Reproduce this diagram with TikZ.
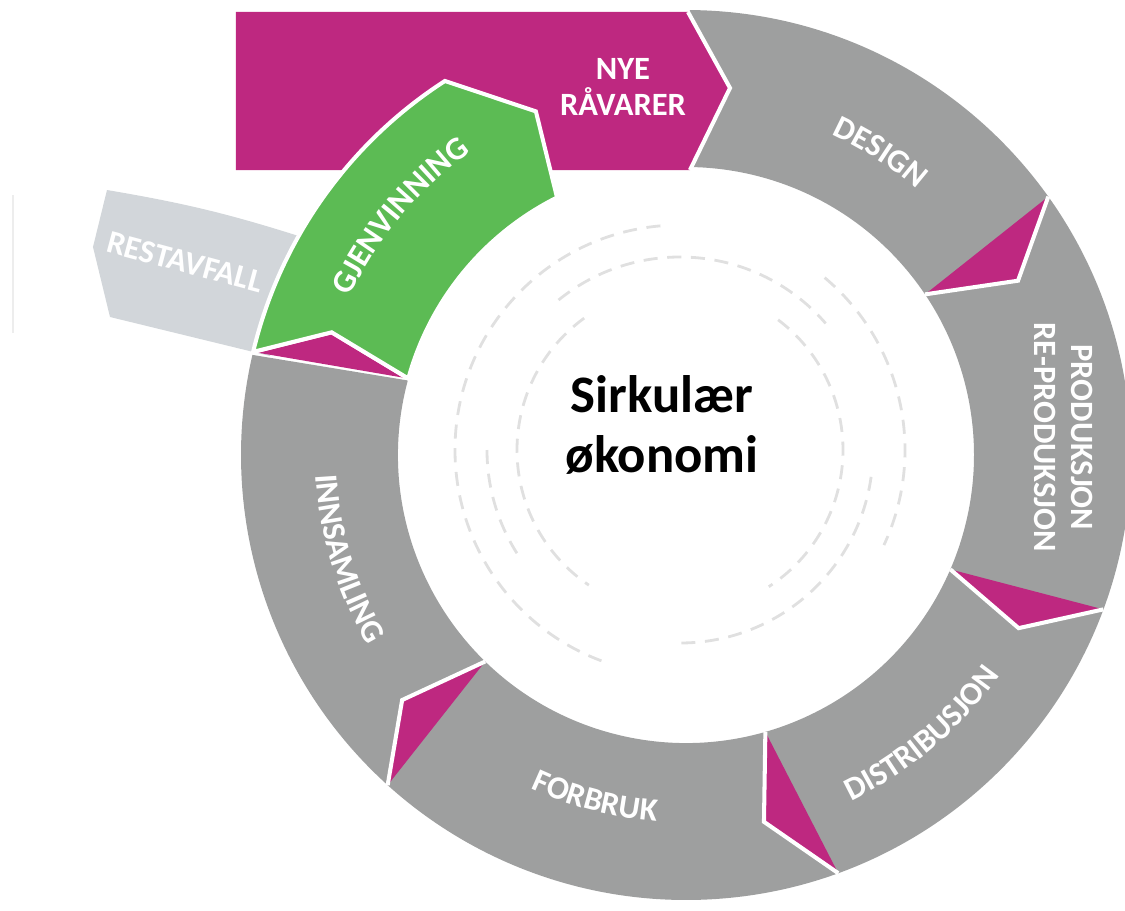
\documentclass[tikz,border=0pt]{standalone}
\usepackage{fontspec}
\setmainfont{Carlito}
\usetikzlibrary{decorations.text}

\definecolor{ringgray}{RGB}{158,159,159}
\definecolor{ravmag}{RGB}{190,40,128}
\definecolor{gjengreen}{RGB}{92,187,84}
\definecolor{restgray}{RGB}{210,214,218}
\definecolor{dashgray}{RGB}{224,224,224}

\newcommand{\lblfont}{\bfseries\fontsize{18.5}{21}\selectfont}
\def\ringin{288}
\def\ringout{445}
\def\ringtip{375}

\tikzset{
  sepline/.style={draw=white, line width=2.3pt, line join=miter},
  lbl/.style={text=white, font=\lblfont, inner sep=0pt},
  ringtext/.style={decorate, decoration={text along path, text align=center,
      text={|\lblfont\color{white}|#1}}},
  dashring/.style={draw=dashgray, line width=1.6pt, dash pattern=on 8pt off 5.5pt}
}

\begin{document}
\begin{tikzpicture}[x=0.02cm, y=0.02cm]
\useasboundingbox (-686,-455) rectangle (439,455);

% faint edge on the left
\draw[black!7, line width=0.8pt] (-673,260) -- (-673,122);

% restavfall
\fill[restgray] (-579,265) to[bend left=4] (-381,217) -- (-416,99) -- (-576,138) -- (-593,208) -- cycle;
\node[lbl, rotate=-15] (rest) at (-501,193) {RESTAVFALL};

% the ring
\fill[ringgray] (89.5:\ringout) arc[start angle=89.5, end angle=-193, radius=\ringout]
  -- (-195:\ringin) arc[start angle=-195, end angle=89.5, radius=\ringin] -- cycle;

% arrow heads between the steps
\foreach \ao/\ai/\at in {35.5/33.9/27.7, -20.3/-23.4/-27.5, -70/-74/-78, -132.1/-134.2/-139.2, 166.6/164.6/160.9} {
  \fill[ravmag] (\ao:\ringout) -- (\at:\ringtip) -- (\ai:\ringin) -- cycle;
  \draw[sepline] (\ao:\ringout) -- (\at:\ringtip) -- (\ai:\ringin);
}

% new raw materials
\fill[ravmag] (-450,285) -- (-450,443) -- (2,443) -- (44,367) -- (4,285) -- cycle;
\draw[sepline] (2,443) -- (44,367) -- (4,285);
\node[lbl, align=center] (nye) at (-63,368) {NYE\\RÅVARER};

% gjenvinning
\filldraw[sepline, fill=gjengreen] (166.6:\ringout) -- (160.9:\ringtip) -- (164.6:\ringin)
  arc[start angle=164.6, end angle=116.6, radius=\ringin] -- (113.6:\ringtip) -- (122.8:\ringout)
  arc[start angle=122.8, end angle=166.6, radius=\ringout] -- cycle;

% dashed rings in the middle
\begin{scope}[shift={(-6,5)}]
  \foreach \r/\a/\b in {163/126/236, 163/53/-57, 193/129/41, 193/180/215, 193/-8/-92, 225/95/250, 225/50/-25}
    \draw[dashring] (\a:\r) arc[start angle=\a, end angle=\b, radius=\r];
\end{scope}

\node[font=\bfseries\fontsize{30}{34.6}\selectfont, align=center, inner sep=0pt] (title) at (-24,30) {Sirkulær\\økonomi};

% step labels
\path[ringtext=DESIGN] (82.3:352) arc[start angle=82.3, end angle=32.3, radius=352];
\node[lbl, rotate=-90, align=center] (prod) at (2.7:378) {PRODUKSJON\\RE-PRODUKSJON};
\path[ringtext=DISTRIBUSJON] (-89.8:383.5) arc[start angle=-89.8, end angle=-9.8, radius=383.5];
\path[ringtext=FORBRUK] (-144.8:367.5) arc[start angle=-144.8, end angle=-64.8, radius=367.5];
\path[ringtext=INNSAMLING] (157:370.5) arc[start angle=157, end angle=237, radius=370.5];
\path[ringtext=GJENVINNING] (180.1:371.5) arc[start angle=180.1, end angle=100.1, radius=371.5];
\end{tikzpicture}
\end{document}
